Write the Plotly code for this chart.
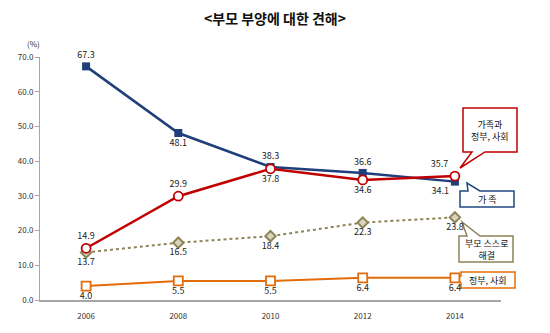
import plotly.graph_objects as go

years = ["2006", "2008", "2010", "2012", "2014"]
family = [67.3, 48.1, 38.3, 36.6, 34.1]
family_gov = [14.9, 29.9, 37.8, 34.6, 35.7]
self_parents = [13.7, 16.5, 18.4, 22.3, 23.8]
gov_society = [4.0, 5.5, 5.5, 6.4, 6.4]
y_ticks = [0, 10, 20, 30, 40, 50, 60, 70]

FONT = "Noto Sans CJK KR"
W, H = 550, 333
L, R, T, B = 40, 49, 57, 33
PW, PH = W - L - R, H - T - B

def px(x):
    return (x - L) / PW

def py(y):
    return (H - B - y) / PH

BLUE = "#1F3F7A"
RED = "#C00000"
OLIVE = "#8C8459"
ORANGE = "#E46C0A"

fig = go.Figure()

def fmt(v):
    return [f"{x:.1f}" for x in v]

common = dict(mode="lines+markers+text", cliponaxis=False)

fig.add_trace(go.Scatter(
    x=years, y=family, name="가족", **common,
    line=dict(color=BLUE, width=2.5),
    marker=dict(symbol="square", size=8, color=BLUE),
    text=fmt(family),
    textposition=["top center", "bottom center", "top center", "top center", "bottom left"],
    textfont=dict(size=9, color="#222222", family=FONT),
))
fig.add_trace(go.Scatter(
    x=years, y=gov_society, name="정부, 사회", **common,
    line=dict(color=ORANGE, width=2),
    marker=dict(symbol="square", size=9, color="white", line=dict(color=ORANGE, width=1.8)),
    text=fmt(gov_society),
    textposition="bottom center",
    textfont=dict(size=9, color="#222222", family=FONT),
))
fig.add_trace(go.Scatter(
    x=years, y=self_parents, name="부모 스스로 해결", **common,
    line=dict(color=OLIVE, width=2, dash="dot"),
    marker=dict(symbol="diamond", size=8, color="#D9D4BC", line=dict(color=OLIVE, width=2)),
    text=fmt(self_parents),
    textposition="bottom center",
    textfont=dict(size=9, color="#222222", family=FONT),
))
fig.add_trace(go.Scatter(
    x=years, y=family_gov, name="가족과 정부, 사회", **common,
    line=dict(color=RED, width=2.5),
    marker=dict(symbol="circle", size=9, color="white", line=dict(color=RED, width=1.8)),
    text=fmt(family_gov),
    textposition=["top center", "top center", "bottom center", "bottom center", "top left"],
    textfont=dict(size=9, color="#222222", family=FONT),
))

def path(pts):
    s = "M " + " L ".join(f"{px(x):.4f},{py(y):.4f}" for x, y in pts) + " Z"
    return s

callouts = [
    ([(463, 108), (517, 108), (517, 152), (485, 152), (460, 168), (472, 152), (463, 152)], RED,
     (490, 130), "가족과<br>정부, 사회"),
    ([(460, 191), (468, 191), (467, 183), (480, 191), (514, 191), (514, 207), (460, 207)], "#1F497D",
     (487, 199), "가 족"),
    ([(459, 236), (467, 236), (462, 222), (480, 236), (513, 236), (513, 262), (459, 262)], OLIVE,
     (486, 249), "부모 스스로<br>해결"),
    ([(461, 272), (515, 272), (515, 288), (461, 288), (461, 283), (457, 279), (461, 276)], ORANGE,
     (488, 280), "정부, 사회"),
]
shapes = []
annotations = []
for pts, col, (cx, cy), txt in callouts:
    shapes.append(dict(type="path", xref="paper", yref="paper", path=path(pts),
                       line=dict(color=col, width=1.5), fillcolor="white", layer="below"))
    annotations.append(dict(xref="paper", yref="paper", x=px(cx), y=py(cy), text=txt,
                            showarrow=False, font=dict(size=9, color="#111111", family=FONT),
                            xanchor="center", yanchor="middle"))

annotations.append(dict(xref="paper", yref="paper", x=px(33), y=py(44), text="(%)",
                        showarrow=False, font=dict(size=8, color="#333333", family=FONT),
                        xanchor="center", yanchor="middle"))
annotations.append(dict(xref="paper", yref="paper", x=px(275), y=py(18), text="<b><부모 부양에 대한 견해></b>",
                        showarrow=False, font=dict(size=14, color="#111111", family=FONT),
                        xanchor="center", yanchor="middle"))

fig.update_layout(
    width=W, height=H,
    margin=dict(l=L, r=R, t=T, b=B),
    paper_bgcolor="white", plot_bgcolor="rgba(0,0,0,0)",
    showlegend=False,
    font=dict(family=FONT, size=9, color="#333333"),
    shapes=shapes, annotations=annotations,
    xaxis=dict(type="category", range=[-0.5, 4.5], showgrid=False, zeroline=False,
               showline=True, linecolor="#A6A6A6", linewidth=1.5, ticks="",
               ticklabelstandoff=8,
               tickfont=dict(size=8, color="#333333", family=FONT)),
    yaxis=dict(range=[0, 70], tickvals=y_ticks, ticktext=[f"{v:.1f}" for v in y_ticks],
               showgrid=False, zeroline=False, showline=True, linecolor="#A6A6A6",
               linewidth=1, ticks="outside", ticklen=4, tickcolor="#A6A6A6",
               tickfont=dict(size=8, color="#333333", family=FONT)),
)

fig.write_html("out.html")
